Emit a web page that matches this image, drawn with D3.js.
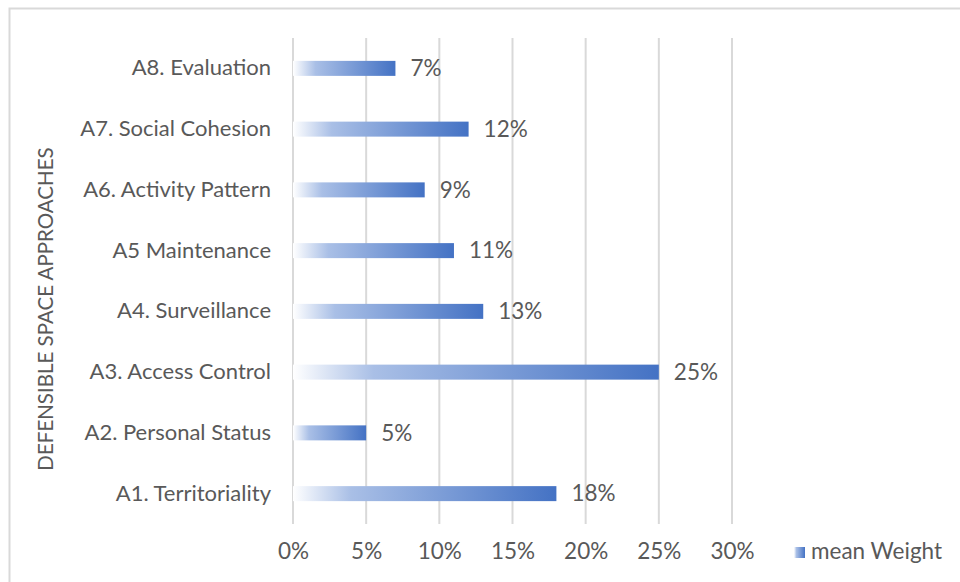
<!DOCTYPE html>
<html>
<head>
<meta charset="utf-8">
<script src="https://cdn.jsdelivr.net/npm/d3@7"></script>
<style>
  body { margin: 0; background: #fff; }
  text { font-family: Lato, sans-serif; fill: #595959; }
</style>
</head>
<body>
<div id="chart"></div>
<script>
// data
var categories = ["A1. Territoriality", "A2. Personal Status", "A3. Access Control", "A4. Surveillance",
                  "A5 Maintenance", "A6. Activity Pattern", "A7. Social Cohesion", "A8. Evaluation"];
var weights = [0.18, 0.05, 0.25, 0.13, 0.11, 0.09, 0.12, 0.07];
var ticks = [0, 0.05, 0.10, 0.15, 0.20, 0.25, 0.30];

var W = 960, H = 582;
var fs = "22.5px";
var svg = d3.select("#chart").append("svg")
    .attr("width", W).attr("height", H);

// outer frame (only top and left visible)
svg.append("path")
    .attr("d", "M9.5,582 V8.5 H960")
    .attr("fill", "none").attr("stroke", "#d9d9d9").attr("stroke-width", 2);

var defs = svg.append("defs");
var grad = defs.append("linearGradient").attr("id", "barGrad")
    .attr("x1", "0%").attr("x2", "100%").attr("y1", "0%").attr("y2", "0%");
grad.append("stop").attr("offset", "0%").attr("stop-color", "#ffffff");
grad.append("stop").attr("offset", "22%").attr("stop-color", "#a9bfe6");
grad.append("stop").attr("offset", "100%").attr("stop-color", "#4472c4");

var x = d3.scaleLinear().domain([0, 0.30]).range([293, 732]);
var y = d3.scaleBand().domain(categories.slice().reverse()).range([38, 524]);

// gridlines
svg.selectAll(".grid").data(ticks).enter().append("line")
    .attr("x1", function(d) { return x(d); })
    .attr("x2", function(d) { return x(d); })
    .attr("y1", 38).attr("y2", 524)
    .attr("stroke", "#d9d9d9").attr("stroke-width", 2);

// x tick labels
var xAxis = svg.append("g").attr("transform", "translate(0,524)")
    .call(d3.axisBottom(x).tickValues(ticks).tickSize(0).tickPadding(19).tickFormat(d3.format(".0%")));
xAxis.select(".domain").remove();
xAxis.selectAll("text").style("font-size", fs).attr("fill", "#595959")
    .style("font-family", "Lato, sans-serif");

// y category labels
var yAxis = svg.append("g").attr("transform", "translate(271,0)")
    .call(d3.axisLeft(y).tickSize(0).tickPadding(0));
yAxis.select(".domain").remove();
yAxis.selectAll("text").style("font-size", "22px").attr("fill", "#595959")
    .style("font-family", "Lato, sans-serif");

// bars
var barH = 15;
svg.selectAll(".bar").data(weights).enter().append("rect")
    .attr("x", x(0))
    .attr("y", function(d, i) { return y(categories[i]) + y.bandwidth() / 2 - barH / 2; })
    .attr("width", function(d) { return x(d) - x(0); })
    .attr("height", barH)
    .attr("fill", "url(#barGrad)");

// value labels
svg.selectAll(".val").data(weights).enter().append("text")
    .attr("x", function(d) { return x(d) + 15; })
    .attr("y", function(d, i) { return y(categories[i]) + y.bandwidth() / 2 + 2; })
    .attr("dominant-baseline", "middle")
    .style("font-size", fs)
    .text(function(d) { return Math.round(d * 100) + "%"; });

// y axis title
svg.append("text")
    .attr("transform", "translate(48,309) rotate(-90)")
    .attr("text-anchor", "middle")
    .attr("dominant-baseline", "middle")
    .style("font-size", "20.5px")
    .text("DEFENSIBLE SPACE APPROACHES");

// legend
svg.append("rect").attr("x", 794).attr("y", 547).attr("width", 11).attr("height", 11)
    .attr("fill", "url(#barGrad)");
svg.append("text").attr("x", 811).attr("y", 553)
    .attr("dominant-baseline", "middle")
    .style("font-size", fs)
    .text("mean Weight");
</script>
</body>
</html>
